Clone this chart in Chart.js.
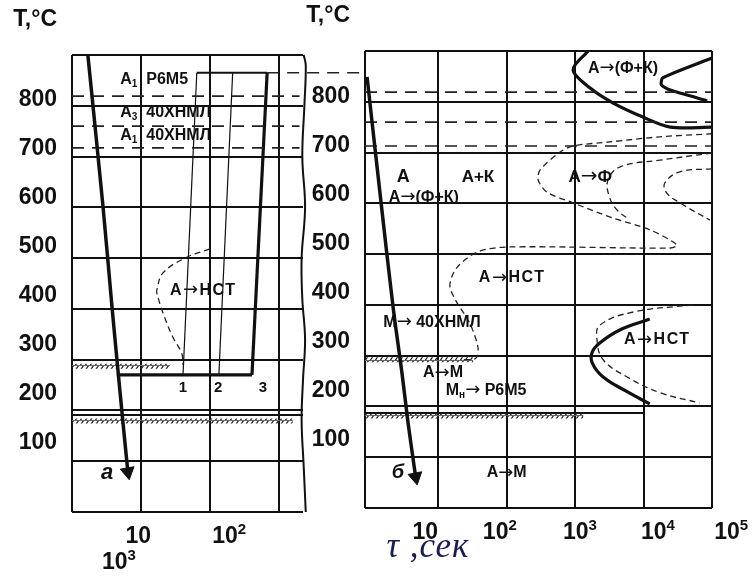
<!DOCTYPE html>
<html>
<head>
<meta charset="utf-8">
<script src="https://cdn.jsdelivr.net/npm/chart.js@4.4.1/dist/chart.umd.min.js"></script>
<style>
  body { margin: 0; background: #fff; }
  #wrap { position: relative; width: 754px; height: 576px; }
  canvas { position: absolute; top: 0; }
  #left { left: 0; }
  #right { left: 300px; }
</style>
</head>
<body>
<div id="wrap">
  <canvas id="left" width="372" height="576"></canvas>
  <canvas id="right" width="454" height="576"></canvas>
</div>
<script>
// Temperature axis (°C), shared by both panels
const gridTemps = [0, 100, 200, 300, 400, 500, 600, 700, 800, 900];
const tempTicks = [100, 200, 300, 400, 500, 600, 700, 800];

// Time axis in decades of log10(tau, s)
const leftTickText = ['10', '10', '10'];
const leftTickExp = ['', '2', '3'];
const leftTickAt = [0.96, 2.28, 0.68];
const leftTickRow = [0, 0, 1];
const rightTickText = ['10', '10', '10', '10', '10'];
const rightTickExp = ['', '2', '3', '4', '5'];
const rightTickAt = [0.81, 1.90, 3.07, 4.21, 5.28];

// ---- panel "а" (Р6М5 / 40ХНМЛ, cooling curves) ----
const aCoolX = [0.23, 0.45, 0.58, 0.67, 0.74, 0.81];
const aCoolT = [900, 601, 404, 274, 175, 79];
const leftCritT = [819, 760, 717];       // А1 Р6М5, А3 40ХНМЛ, А1 40ХНМЛ
const startT = 865;
const isoT = 270;
const lineT = [865, 270];
const line1X = [1.81, 1.61];
const line2X = [2.33, 2.13];
const line3X = [2.83, 2.61];
const isoStartX = 0.65;
const aNstX = [2.0, 1.67, 1.32, 1.23, 1.23, 1.32, 1.46, 1.59, 1.61];
const aNstT = [518, 502, 471, 437, 431, 392, 345, 313, 290];
const leftMsT = [287, 179];
const leftMsEnd = [1.42, 3.2];
const leftDoubleT = 191;
const edgeX = [3.36, 3.39, 3.37, 3.34, 3.38, 3.33, 3.34, 3.38, 3.35, 3.33, 3.36, 3.39];
const edgeT = [900, 880, 800, 700, 600, 500, 420, 340, 260, 180, 90, 0];

// ---- panel "б" (isothermal decomposition) ----
const bCoolX = [-0.04, 0.16, 0.34, 0.47, 0.56, 0.67];
const bCoolT = [849, 607, 396, 266, 167, 61];
const rightCritT = [819, 760, 713];
const fkLowX = [3.19, 2.97, 3.22, 3.55, 3.99, 4.39, 5.0];
const fkLowT = [900, 863, 827, 798, 770, 750, 750];
const fkUpX = [5.0, 4.28, 4.26, 4.39, 4.93];
const fkUpT = [886, 847, 833, 823, 802];
const ferOutX = [5.0, 4.24, 3.51, 2.97, 2.78, 2.49, 2.46, 2.59, 2.97, 3.55, 4.09, 4.49, 4.39, 2.0, 1.57, 1.27, 1.17, 1.25, 1.46, 1.58, 1.55, 1.35];
const ferOutT = [737, 731, 721, 713, 701, 666, 646, 622, 601, 571, 548, 518, 512, 514, 504, 473, 439, 410, 364, 317, 295, 292];
const ferMidX = [5.0, 4.24, 3.66, 3.48, 3.50, 3.61, 3.76];
const ferMidT = [699, 685, 672, 646, 613, 587, 571];
const ferInX = [5.0, 4.53, 4.31, 4.34, 4.53, 4.97];
const ferInT = [668, 662, 640, 620, 601, 567];
const nstSolidX = [4.09, 3.66, 3.36, 3.25, 3.25, 3.41, 3.76, 4.09];
const nstSolidT = [372, 351, 325, 307, 286, 258, 229, 205];
const nstDashX = [4.72, 3.85, 3.36, 3.32, 3.41, 3.76, 4.24, 4.82];
const nstDashT = [400, 386, 360, 331, 292, 258, 227, 207];
const rightMsT = [292, 181];
const rightMsEnd = [1.51, 3.12];
const rightDoubleT = 187;

// Region labels
const leftNotes = [
  { parts: [['А'], ['1', 's'], ['  Р6М5']], x: 0.70, t: 851, align: 'left' },
  { parts: [['А'], ['3', 's'], ['  40ХНМЛ']], x: 0.70, t: 786, align: 'left' },
  { parts: [['А'], ['1', 's'], ['  40ХНМЛ']], x: 0.70, t: 742, align: 'left' },
  { parts: [['А→НСТ']], x: 1.42, t: 437, align: 'left', spacing: '1.5px' },
  { parts: [['1']], x: 1.61, t: 244, size: 15 },
  { parts: [['2']], x: 2.12, t: 244, size: 15 },
  { parts: [['3']], x: 2.77, t: 244, size: 15 },
  { parts: [['а']], x: 0.51, t: 77, size: 22, italic: true }
];
const rightNotes = [
  { parts: [['А']], x: 0.49, t: 652, size: 18 },
  { parts: [['А+К']], x: 1.58, t: 652, size: 17 },
  { parts: [['А→Ф']], x: 3.22, t: 652, size: 17 },
  { parts: [['А→(Ф+К)']], x: 0.79, t: 612, clipT: 600 },
  { parts: [['А→(Ф+К)']], x: 3.70, t: 866 },
  { parts: [['А→НСТ']], x: 2.08, t: 453, spacing: '1.5px' },
  { parts: [['М→ 40ХНМЛ']], x: 0.91, t: 366 },
  { parts: [['А→НСТ']], x: 4.20, t: 331, spacing: '1.5px' },
  { parts: [['А→М']], x: 1.07, t: 266 },
  { parts: [['М'], ['н', 's'], ['→ Р6М5']], x: 1.70, t: 232 },
  { parts: [['А→М']], x: 2.0, t: 69 },
  { parts: [['б']], x: 0.41, t: 69, size: 20, italic: true }
];

const INK = '#111';
const FONT = '"Liberation Sans", Arial, sans-serif';
const ARROW_FONT = '"DejaVu Sans", sans-serif';

function pts(xs, ts) { return xs.map((x, i) => ({ x: x, y: ts[i] })); }
function hline(t, x0, x1) { return [{ x: x0, y: t }, { x: x1, y: t }]; }

function line(data, opts) {
  return Object.assign({
    data: data, borderColor: INK, borderWidth: 2, pointRadius: 0,
    fill: false, tension: 0, clip: false
  }, opts || {});
}

function arrow(xs, ts, rot) {
  const n = xs.length - 1;
  return {
    data: [{ x: xs[n], y: ts[n] }], showLine: false, pointStyle: 'triangle',
    pointRadius: 8, pointRotation: rot, pointBackgroundColor: INK,
    pointBorderColor: INK, pointBorderWidth: 1, clip: false
  };
}

// small diagonal hatch used for the Mн lines
function makeHatch() {
  const c = document.createElement('canvas');
  c.width = 5; c.height = 5;
  const g = c.getContext('2d');
  g.strokeStyle = '#222';
  g.lineWidth = 1.3;
  g.beginPath(); g.moveTo(0.5, 5); g.lineTo(4, 0); g.stroke();
  g.fillStyle = '#666';
  g.fillRect(0, 0, 5, 1);
  return g.createPattern(c, 'repeat');
}
const hatch = makeHatch();

const critDash = { borderWidth: 1.6, borderDash: [12, 8], borderColor: '#222' };
const thinDash = { borderWidth: 1.3, borderDash: [6, 4], borderColor: '#222', tension: 0.4 };
const hatchStyle = { borderWidth: 5, borderColor: hatch };

// split a run of text so the arrow glyph comes from a font that has a full-size one
function runs(text) {
  const out = [];
  text.split(/(→)/).forEach(s => { if (s) out.push(s); });
  return out;
}

function drawParts(ctx, parts, x, y, size, align, italic) {
  const style = (italic ? 'italic ' : '') + 'bold ';
  const items = [];
  parts.forEach(p => {
    const sz = p[1] ? Math.round(size * 0.65) : size;
    const dy = p[1] === 's' ? size * 0.3 : p[1] === 'p' ? -size * 0.3 : 0;
    runs(p[0]).forEach(r => {
      const font = r === '→' ? Math.round(sz * 1.15) + 'px ' + ARROW_FONT
                             : style + sz + 'px ' + FONT;
      ctx.font = font;
      items.push({ r, font, dy, w: ctx.measureText(r).width });
    });
  });
  const total = items.reduce((a, b) => a + b.w, 0);
  let cx = align === 'left' ? x : align === 'right' ? x - total : x - total / 2;
  ctx.textAlign = 'left';
  ctx.textBaseline = 'middle';
  items.forEach(it => {
    ctx.font = it.font;
    ctx.fillText(it.r, cx, y + it.dy);
    cx += it.w;
  });
}

function decor(panel) {
  return {
    id: 'decor',
    afterDatasetsDraw(chart) {
      const ctx = chart.ctx, xs = chart.scales.x, ys = chart.scales.y, area = chart.chartArea;
      ctx.save();
      ctx.fillStyle = INK;
      panel.notes.forEach(n => {
        ctx.save();
        if (n.clipT !== undefined) {
          ctx.beginPath();
          ctx.rect(0, 0, chart.width, ys.getPixelForValue(n.clipT) - 1);
          ctx.clip();
        }
        ctx.letterSpacing = n.spacing || '0px';
        drawParts(ctx, n.parts, xs.getPixelForValue(n.x), ys.getPixelForValue(n.t),
          n.size || 16, n.align || 'center', n.italic);
        ctx.restore();
      });
      panel.tickAt.forEach((v, i) => {
        drawParts(ctx, [[panel.tickText[i]], [panel.tickExp[i], 'p']],
          xs.getPixelForValue(v), area.bottom + 25 + panel.tickRow[i] * 26, 23, 'center');
      });
      drawParts(ctx, [['T,°C']], area.left - 15, area.top - 35, 23, 'right');
      if (panel.tau) {
        ctx.font = 'italic 35px "Liberation Serif", "Times New Roman", serif';
        ctx.fillStyle = '#1c1c55';
        ctx.textAlign = 'center';
        ctx.textBaseline = 'middle';
        ctx.letterSpacing = '1px';
        ctx.fillText('τ ,сек', xs.getPixelForValue(panel.tau), area.bottom + 40);
      }
      ctx.restore();
    }
  };
}

function makeChart(id, sets, o) {
  const gridOpts = { color: INK, lineWidth: 2, drawTicks: false };
  return new Chart(document.getElementById(id), {
    type: 'line',
    data: { datasets: sets },
    options: {
      responsive: false, animation: false, devicePixelRatio: 1,
      layout: { padding: o.padding },
      plugins: { legend: { display: false }, tooltip: { enabled: false } },
      scales: {
        x: {
          type: 'linear', min: o.xMin, max: o.xMax, border: { display: false },
          grid: gridOpts, ticks: { display: false },
          afterBuildTicks: s => { s.ticks = o.xGrid.map(v => ({ value: v })); },
          afterFit: s => { s.height = 0; }
        },
        y: {
          type: 'linear', position: 'left', min: 0, max: 900, border: { display: false },
          grid: gridOpts, ticks: { display: false },
          afterBuildTicks: s => { s.ticks = gridTemps.map(v => ({ value: v })); },
          afterFit: s => { s.width = 0; }
        },
        yLab: {
          type: 'linear', position: 'left', min: o.labMin, max: o.labMax,
          border: { display: false }, grid: { display: false, drawTicks: false },
          ticks: {
            autoSkip: false, padding: 15, color: INK,
            font: { family: FONT, size: 23, weight: 'bold' },
            callback: v => String(v)
          },
          afterBuildTicks: s => { s.ticks = tempTicks.map(v => ({ value: v })); },
          afterFit: s => { s.width = o.labWidth; }
        }
      }
    },
    plugins: [decor(o.panel)]
  });
}

const leftSets = [
  line(pts(aCoolX, aCoolT), { borderWidth: 3.5, tension: 0.3 }),
  arrow(aCoolX, aCoolT, 170),
  ...leftCritT.map(t => line(hline(t, 0, 3.3), critDash)),
  line(hline(startT, line1X[0], line3X[0]), { borderWidth: 2 }),
  line(hline(startT, line3X[0], 4.28), critDash),
  line(pts(line1X, lineT), { borderWidth: 1.2 }),
  line(pts(line2X, lineT), { borderWidth: 1.2 }),
  line(pts(line3X, lineT), { borderWidth: 3.2 }),
  line(hline(isoT, isoStartX, line3X[1]), { borderWidth: 3.2 }),
  line(pts(aNstX, aNstT), thinDash),
  ...leftMsT.map((t, i) => line(hline(t, 0, leftMsEnd[i]), hatchStyle)),
  line(hline(leftDoubleT, 0, 3.35), { borderWidth: 2 }),
  line(pts(edgeX, edgeT), { borderWidth: 2, tension: 0.4 })
];

const rightSets = [
  line(pts(bCoolX, bCoolT), { borderWidth: 3.5, tension: 0.3 }),
  arrow(bCoolX, bCoolT, 169),
  ...rightCritT.map(t => line(hline(t, -0.07, 5.0), critDash)),
  line(pts(fkLowX, fkLowT), { borderWidth: 3.2, tension: 0.3 }),
  line(pts(fkUpX, fkUpT), { borderWidth: 3.2, tension: 0.2 }),
  line(pts(ferOutX, ferOutT), Object.assign({}, thinDash, { tension: 0.3 })),
  line(pts(ferMidX, ferMidT), thinDash),
  line(pts(ferInX, ferInT), thinDash),
  line(pts(nstSolidX, nstSolidT), { borderWidth: 3.2, tension: 0.4 }),
  line(pts(nstDashX, nstDashT), thinDash),
  ...rightMsT.map((t, i) => line(hline(t, -0.07, rightMsEnd[i]), hatchStyle)),
  line(hline(rightDoubleT, -0.07, 4.0), { borderWidth: 2 })
];

makeChart('left', leftSets, {
  padding: { top: 55, bottom: 64, left: 0, right: 69 },
  xMin: 0, xMax: 3.35, xGrid: [0, 1, 2, 3],
  labMin: -40.8, labMax: 891.8, labWidth: 72,
  panel: { notes: leftNotes, tickAt: leftTickAt, tickText: leftTickText, tickExp: leftTickExp, tickRow: leftTickRow }
});

makeChart('right', rightSets, {
  padding: { top: 51, bottom: 68, left: 0, right: 42 },
  xMin: -0.07, xMax: 5.0, xGrid: [-0.07, 1, 2, 3, 4, 5],
  labMin: -38.8, labMax: 893.9, labWidth: 65,
  panel: { notes: rightNotes, tickAt: rightTickAt, tickText: rightTickText, tickExp: rightTickExp,
           tickRow: [0, 0, 0, 0, 0], tau: 0.85 }
});
</script>
</body>
</html>
